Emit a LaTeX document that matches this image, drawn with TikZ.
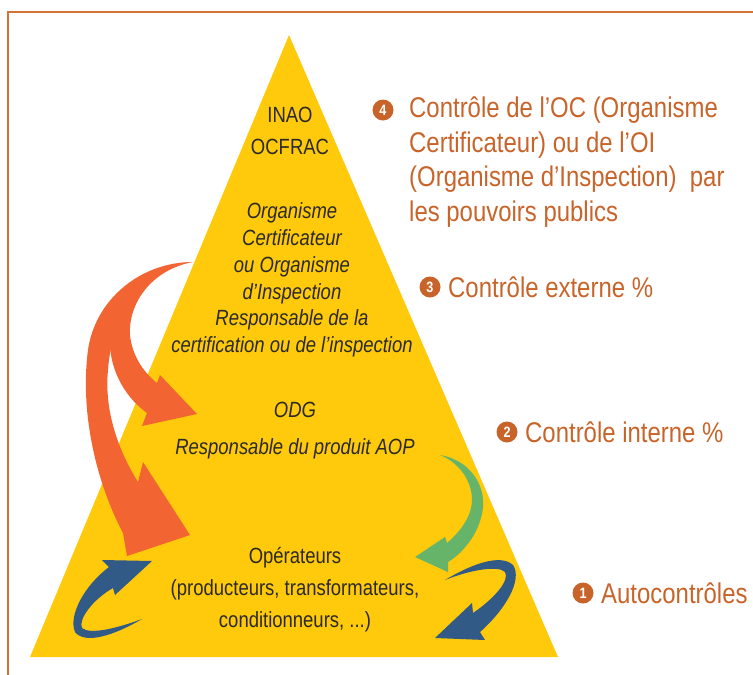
\documentclass[tikz,border=0pt]{standalone}
\usepackage{fontspec}
\setmainfont{Liberation Sans}[FakeStretch=0.84]
\definecolor{pyryellow}{HTML}{FFC90C}
\definecolor{labelorange}{HTML}{C8642A}
\definecolor{arroworange}{HTML}{F26532}
\definecolor{arrowgreen}{HTML}{66B36A}
\definecolor{arrowblue}{HTML}{325A86}
\definecolor{framecol}{HTML}{D2733A}
\definecolor{inkcol}{HTML}{2B2A29}
\tikzset{
  level/.style={align=center, text=inkcol, inner sep=0pt, font=\fontsize{22}{32}\selectfont},
  levelit/.style={level, font=\fontsize{22}{26.8}\selectfont\itshape},
  ctrl/.style={align=left, anchor=west, inner sep=0pt, text=labelorange, font=\fontsize{28.5}{34.5}\selectfont},
  num/.style={circle, fill=labelorange, text=white, inner sep=0pt, minimum size=21pt, font=\fontsize{15}{15}\selectfont\bfseries},
}

\begin{document}
\begin{tikzpicture}[x=1pt, y=-1pt]
\useasboundingbox (0,0) rectangle (753,675);
\draw[framecol, line width=1.6pt] (8,675) -- (8,12) -- (753,12);
\fill[pyryellow] (289,35) -- (558,657) -- (30,657) -- cycle;

\node[level] (inao) at (290,131) {INAO\\OCFRAC};
\node[levelit] (oc) at (292,280) {Organisme\\Certificateur\\ou Organisme\\d’Inspection\\Responsable de la\\certification ou de l’inspection};
\node[level, font=\fontsize{22}{37}\selectfont\itshape] (odg) at (295,431) {ODG\\Responsable du produit AOP};
\node[level] (op) at (295,590) {Opérateurs\\(producteurs, transformateurs,\\conditionneurs, ...)};

\node[num] (numfour) at (383,110) {4};
\node[ctrl] (ctrlfour) at (409,162) {Contrôle de l’OC (Organisme\\Certificateur) ou de l’OI\\(Organisme d’Inspection)~ par\\les pouvoirs publics};
\node[num] (numthree) at (430,287) {3};
\node[ctrl] (ctrlthree) at (448,287) {Contrôle externe \%};
\node[num] (numtwo) at (507,432) {2};
\node[ctrl] (ctrltwo) at (525,432) {Contrôle interne \%};
\node[num] (numone) at (583,593) {1};
\node[ctrl] (ctrlone) at (601,593) {Autocontrôles};

\fill[arroworange] (193,262) .. controls (140,262) and (95,300) .. (88,350) .. controls (80,410) and (95,480) .. (123,533) -- (127,556) -- (190,535) -- (143,462) -- (138,482) .. controls (118,450) and (104,410) .. (108,370) .. controls (112,310) and (150,266) .. (193,262) -- cycle;
\fill[arroworange] (193,262) .. controls (150,270) and (128,305) .. (130,335) .. controls (132,355) and (143,372) .. (157,383) -- (160,375) -- (197,414) -- (142,426) -- (147,413) .. controls (122,395) and (108,365) .. (110,335) .. controls (113,295) and (150,265) .. (193,262) -- cycle;
\fill[arrowgreen] (440,455) .. controls (470,460) and (485,485) .. (483,507) .. controls (481,530) and (465,552) .. (448,562) -- (448,572) -- (415,557) -- (445,537) -- (447,543) .. controls (462,530) and (472,515) .. (472,500) .. controls (472,480) and (458,462) .. (440,455) -- cycle;
\fill[arrowblue] (445,580) .. controls (470,565) and (500,553) .. (513,565) .. controls (523,580) and (505,610) .. (480,632) -- (485,640) -- (435,638) -- (472,603) -- (473,613) .. controls (495,598) and (510,580) .. (505,572) .. controls (498,565) and (470,570) .. (445,580) -- cycle;
\fill[arrowblue] (152,561) -- (102,560) -- (109,567) .. controls (85,585) and (68,615) .. (75,632) .. controls (85,645) and (115,635) .. (142,619) .. controls (118,628) and (90,635) .. (82,628) .. controls (78,620) and (92,600) .. (113,588) -- (115,595) -- cycle;
\end{tikzpicture}
\end{document}
